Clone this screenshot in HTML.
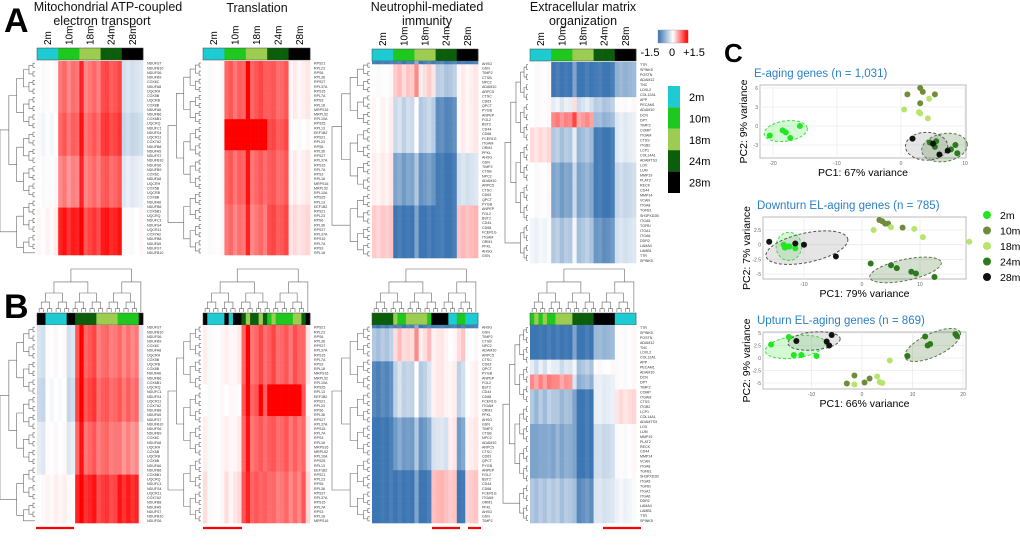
<!DOCTYPE html>
<html><head><meta charset="utf-8">
<style>
html,body{margin:0;padding:0;background:#fff;}
body{width:1020px;height:541px;overflow:hidden;font-family:"Liberation Sans",sans-serif;}
svg text{font-family:"Liberation Sans",sans-serif;}
</style></head>
<body>
<svg id="fig" width="1020" height="541" viewBox="0 0 1020 541" xmlns="http://www.w3.org/2000/svg">
<g><text x="4" y="32" font-size="34" font-weight="bold">A</text></g>
<g><text x="4" y="318" font-size="34" font-weight="bold">B</text></g>
<g><text x="724" y="62" font-size="26" font-weight="bold">C</text></g>
<g font-size="12.5" text-anchor="middle" fill="#111">
<text x="108" y="11">Mitochondrial ATP-coupled</text>
<text x="102" y="25">electron transport</text>
<text x="257" y="12">Translation</text>
<text x="427" y="11">Neutrophil-mediated</text>
<text x="427" y="25">immunity</text>
<text x="583" y="11">Extracellular matrix</text>
<text x="583" y="25">organization</text>
</g>
<g id="heat"></g>
<g id="legend"></g>
<g id="pca"></g>
</svg>
<script>
const groupNames = ["2m","10m","18m","24m","28m"];
const groupColors = ["#1ecbd2","#1ec81e","#9ccc50","#0b5e0b","#000000"];
const colsA = [0,0,0,0,0,1,1,1,1,1,2,2,2,2,2,3,3,3,3,3,4,4,4,4,4];
const colEffect = [0,-0.1,0.05,-0.05,0.1, 0,0.1,-0.1,0.05,0, 0.5,-0.1,0,0.1,-0.05, 0.05,0.1,-0.05,0,0.1, -0.1,0.05,-0.1,0,0.1];
const mitoBands = [[12,0,0.8,0.8,1.0,-0.3],[10,-0.05,0.9,0.9,1.1,-0.4],[12,0,0.7,0.8,0.9,-0.2],[11,0.05,1.3,1.1,1.3,0]];
const transBands = [[15,0,0.9,1.0,0.9,0.1],[8,0,1.6,1.6,1.0,0],[14,0,0.9,0.9,0.9,0.1],[13,0,0.8,0.8,1.0,0.2]];
const neutBands = [[1,-1.4,-1.4,-1.4,-1.4,-1.4],[10,0,0.3,0.2,-0.6,0.1],[17,0.05,-0.4,-0.5,-1.3,0.1],[16,0.1,-1.0,-1.1,-1.5,-0.3],[16,0.3,-1.5,-1.5,-1.5,0.4]];
const ecmBands = [[7,0,-1.5,-1.5,-1.5,-0.8],[3,0,-0.2,-0.3,-0.6,0],[3,0,0.7,0.6,-0.8,-0.2],[7,0.2,-0.6,-0.7,-1.5,-0.2],[11,0,-1.0,-0.9,-1.5,-0.4],[9,-0.1,-0.6,-0.6,-1.2,-0.3]];
const colsBmito = [4,4,0,0,0,0,0,4,4,3,3,3,3,3,2,2,2,2,2,1,1,1,1,1,4];
const colsBtrans = [4,0,0,0,0,4,0,4,4,3,2,3,3,2,3,1,2,1,1,1,1,2,2,3,4];
const colsBneut = [3,3,3,3,3,2,1,1,2,2,2,2,2,1,4,4,4,4,0,0,1,1,0,0,0];
const colsBecm = [1,2,1,2,1,1,2,2,2,2,3,3,3,3,3,4,4,4,4,4,0,0,0,0,0];
const mitoLabels = ["NDUFS7","NDUFB10","NDUFS6","NDUFB9","COX6C","NDUFA8","UQCRH","COX5B","UQCRB","COX8B","NDUFA6","NDUFB6","COX6B1","UQCRQ","NDUFC1","NDUFS4","UQCR11","COX7A2","NDUFB8","NDUFA5"];
const transLabels = ["RPS21","RPL23","RPS6","RPL36","RPS27","RPL37A","RPS15","RPL7A","RPS3","RPL18","MRPS16","MRPL52","RPL10A","RPS25","RPL13","EEF1B2"];
const neutLabels = ["AHSG","GSN","TIMP2","CTSB","NPC2","ADAM10","ARPC5","CTSC","CD63","QPCT","PYGB","ANPEP","FGL2","BST2","CD44","CD68","FCER1G","ITGAM","ORM1","PFKL"];
const ecmLabels = ["TTR","SPINK5","POSTN","ADAM12","TNC","LOXL2","COL12A1","APP","PECAM1","ADAM10","DCN","DPT","TIMP2","COMP","ITGAM","CTSS","ITGB2","LCP1","COL14A1","ADAMTS3","LOX","LUM","MMP19","PLAT2","RECK","CD44","MMP14","VCAN","ITGA8","TGFB1","SH3PXD2B","ITGA5","TGFBI","ITGA1","ITGA6","DDR2","LAMA4","LAMB1"];

function color(v){
  v=Math.max(-1.5,Math.min(1.5,v));
  let t=Math.abs(v)/1.5;
  if(v>=0){return `rgb(255,${Math.round(255*(1-t))},${Math.round(255*(1-t))})`;}
  return `rgb(${Math.round(255+(61-255)*t)},${Math.round(255+(118-255)*t)},${Math.round(255+(178-255)*t)})`;
}
const NS="http://www.w3.org/2000/svg";
function el(tag,attrs,parent){const e=document.createElementNS(NS,tag);for(const k in attrs)e.setAttribute(k,attrs[k]);parent.appendChild(e);return e;}
const heat=document.getElementById('heat');

function rowDendro(g,x0,x1,y,h,n){
  let nodes=[];for(let i=0;i<n;i++)nodes.push({y:y+(i+0.5)*h/n,x:x1});
  let level=0, d="";
  while(nodes.length>1){
    level++;const nx=[];
    for(let i=0;i<nodes.length;i+=2){
      if(i+1<nodes.length){
        const a=nodes[i],b=nodes[i+1];const xx=x1-(x1-x0)*Math.pow(level/Math.ceil(Math.log2(n)),1.6);
        d+=`M${a.x},${a.y}H${xx}V${b.y}H${b.x}`;nx.push({x:xx,y:(a.y+b.y)/2});
      }else nx.push(nodes[i]);
    }
    nodes=nx;
  }
  el('path',{d:d,fill:'none',stroke:'#666','stroke-width':0.6},g);
}
function colDendro(g,x,w,y0,y1,n){
  let nodes=[];for(let i=0;i<n;i++)nodes.push({x:x+(i+0.5)*w/n,y:y1});
  let level=0,d="";const L=Math.ceil(Math.log2(n));
  while(nodes.length>1){
    level++;const nx=[];
    for(let i=0;i<nodes.length;i+=2){
      if(i+1<nodes.length){const a=nodes[i],b=nodes[i+1];const yy=y1-(y1-y0)*Math.pow(level/L,1.6);
        d+=`M${a.x},${a.y}V${yy}H${b.x}V${b.y}`;nx.push({x:(a.x+b.x)/2,y:yy});}
      else nx.push(nodes[i]);
    }
    nodes=nx;
  }
  el('path',{d:d,fill:'none',stroke:'#666','stroke-width':0.6},g);
}

function drawHeatmap(name,bands,cols,labels,x,w,y,h,barY,dx0,panelB){
  const g=el('g',{},heat);
  
  
  const nrows=bands.reduce((s,b)=>s+b[0],0);
  const cw=w/cols.length, rh=h/nrows;
  const bar=el('g',{},g);
  
  
  cols.forEach((gi,c)=>{el('rect',{x:x+c*cw,y:barY,width:cw+0.3,height:12,fill:groupColors[gi]},bar);});
  el('rect',{x:x,y:barY,width:w,height:12,fill:'none',stroke:'#444','stroke-width':0.5},bar);
  if(!panelB){
    groupNames.forEach((gn,i)=>{
      const cx=x+(i+0.5)*w/5;
      const t=el('text',{x:0,y:0,'font-size':10,transform:`translate(${cx+3.5},${barY-3}) rotate(-90)`},g);
      t.textContent=gn;
      
      
    });
  } else {
    colDendro(g,x,w,barY-44,barY-1,cols.length);
  }
  const cells=el('g',{},g);
  
  
  let r=0;
  bands.forEach(b=>{
    for(let k=0;k<b[0];k++){
      cols.forEach((gi,c)=>{
        const v=b[1+gi]+colEffect[c%colEffect.length]*(gi===0||gi===4?0.5:1);
        el('rect',{x:x+c*cw,y:y+r*rh,width:cw+0.3,height:rh+0.3,fill:color(v)},cells);
      });
      r++;
    }
  });
  const lab=el('g',{'font-size':3.6,fill:'#333'},g);
  
  
  const nl=Math.min(nrows,Math.floor(h/4.6));
  for(let i=0;i<nl;i++){const t=el('text',{x:x+w+4,y:y+(i+0.8)*h/nl},lab);t.textContent=labels[i%labels.length];}
  rowDendro(g,dx0,x-2,y,h,Math.min(nrows,48));
}
drawHeatmap('heatmap-a-mito',mitoBands,colsA,mitoLabels,37,106,61,194,48,0,false);
drawHeatmap('heatmap-a-translation',transBands,colsA,transLabels,203,107,61,194,48,168,false);
drawHeatmap('heatmap-a-neutrophil',neutBands,colsA,neutLabels,372,106,61,197,49,332,false);
drawHeatmap('heatmap-a-ecm',ecmBands,colsA,ecmLabels,530,106,62,201,49,505,false);
drawHeatmap('heatmap-b-mito',mitoBands,colsBmito,mitoLabels,37,106,325,198,313,0,true);
drawHeatmap('heatmap-b-translation',transBands,colsBtrans,transLabels,203,107,325,198,313,168,true);
drawHeatmap('heatmap-b-neutrophil',neutBands,colsBneut,neutLabels,372,106,325,198,313,332,true);
drawHeatmap('heatmap-b-ecm',ecmBands,colsBecm,ecmLabels,530,106,325,198,313,503,true);
const redLines=[[36,74],[203,242],[432,460],[468,481],[603,641]];
redLines.forEach((l,i)=>{const e=el('line',{x1:l[0],x2:l[1],y1:528,y2:528,stroke:'#f00','stroke-width':2.2},heat);
  
  });

const leg=document.getElementById('legend');
const sc=el('g',{},leg);


for(let i=0;i<30;i++){const v=-1.5+3*i/29;el('rect',{x:658+i,y:30,width:1.2,height:13,fill:color(v)},sc);}
el('rect',{x:658,y:30,width:30,height:13,fill:'none',stroke:'#999','stroke-width':0.4},sc);
[["-1.5",650],["0",672],["+1.5",694]].forEach(a=>{const t=el('text',{x:a[1],y:56,'font-size':11,'text-anchor':'middle'},sc);t.textContent=a[0];});
const gl=el('g',{},leg);


groupNames.forEach((gn,i)=>{
  el('rect',{x:668,y:86+i*21.4,width:12,height:21.4,fill:groupColors[i]},gl);
  const t=el('text',{x:689,y:101+i*21.4,'font-size':11},gl);t.textContent=gn;
  
  
});

const pcaColors = ["#22e622","#6f8c3a","#b6e56c","#2c7a1c","#111111"];
const p1x = [[-20.5,-18.5,-18,-17.3,-15.8],[1,3,3.4,3,5.3],[0.5,2.8,3,4.4,4.2],[4.5,5.3,5.5,7.8,8.5,8.8],[1.8,5,6,7.3]];
const p1y = [[-1.5,-0.7,-1,-1.9,0],[5,6,5.4,3.6,5],[2.6,2.2,2,4.3,1.2],[-2.6,-3.3,-2.4,-3.7,-3,-4.3],[-2,-2.8,-4.5,-3.9]];
const p2x = [[-13.5,-13.3,-12.8,-12.5,-11.5],[3,3.5,4,4.5,7],[2,5,9,10.5,18.5],[1.5,5,6,8.5,9.3,12.5],[-16,-11.5,-10,-4.5]];
const p2y = [[0,-0.5,-0.3,-0.3,-0.6],[4.2,4,3.6,3.6,2.9],[2.5,3,2.7,1.3,0.5],[-3.2,-3.5,-4,-4.6,-4.9,-5.5],[0.5,0.2,0,-2]];
const p3x = [[-18,-14.5,-13.5,-12,-9],[-3,-1.5,0.5,1.5],[-1.5,3,3.5,4,5.5],[9,12.5,13,13.5,18.5,18.8],[-13,-7,-6.5,-6]];
const p3y = [[2.7,4.2,0.6,0.6,0.4],[-5.1,-3.5,-4.9,-4.1],[-5.3,-3.7,-4.8,-5,-0.5],[0.4,4.3,2.5,2.8,4.8,4.4],[3.4,3.3,2.5,4.6]];
const xTicks1=[-20,-10,0,10], yTicks1=[-3,0,3,6];
const xTicks2=[-10,0,10], yTicks2=[-5,-2.5,0,2.5];
const xTicks3=[-10,0,10,20], yTicks3=[-5,-2.5,0,2.5,5];
const ell1=[[0,-18,-0.8,3.4,1.6,-8],[4,4,-3.2,3.3,2.2,0],[3,6.8,-3.4,3.6,2.2,-10]];
const ell2=[[0,-12.6,-0.3,2.2,2.4,0],[4,-9.5,-0.5,7.2,2.5,-12],[3,7.5,-4.3,6.3,1.8,-12]];
const ell3=[[0,-13.2,2.2,6,2.2,-8],[4,-9.5,3.4,5.2,1.8,-5],[3,14,2.6,6,2.3,-25]];

const pcaG=document.getElementById('pca');
function pcaPlot(name,title,xlab,ylab,X,Y,ell,xt,yt,box,xmap,ymap){
  const g=el('g',{},pcaG);
  
  
  const sx=v=>xmap[0]+(v-xmap[1])*xmap[2];
  const sy=v=>ymap[0]-(v-ymap[1])*ymap[2];
  const tt=el('text',{x:box[0]-6,y:box[1]-8,'font-size':11.5,fill:'#2a7fc9'},g);tt.textContent=title;
  
  el('rect',{x:box[0],y:box[1],width:box[2],height:box[3],fill:'#fff',stroke:'#bbb','stroke-width':1},g);
  xt.forEach(v=>{el('line',{x1:sx(v),x2:sx(v),y1:box[1],y2:box[1]+box[3],stroke:'#ececec','stroke-width':0.8},g);
    const t=el('text',{x:sx(v),y:box[1]+box[3]+7,'font-size':5,'text-anchor':'middle',fill:'#666'},g);t.textContent=v;});
  yt.forEach(v=>{el('line',{x1:box[0],x2:box[0]+box[2],y1:sy(v),y2:sy(v),stroke:'#ececec','stroke-width':0.8},g);
    const t=el('text',{x:box[0]-2,y:sy(v)+2,'font-size':5,'text-anchor':'end',fill:'#666'},g);t.textContent=v.toFixed(v%1?1:0);});
  ell.forEach(e=>{const cx=sx(e[1]),cy=sy(e[2]);
    const fill=e[0]===4?'rgba(150,150,150,0.25)':(e[0]===0?'rgba(60,230,60,0.22)':'rgba(60,110,40,0.22)');
    const st=e[0]===4?'#555':(e[0]===0?'#3ee03e':'#5a7a48');
    const E=el('ellipse',{cx:cx,cy:cy,rx:e[3]*xmap[2],ry:e[4]*ymap[2],transform:`rotate(${e[5]},${cx},${cy})`,fill:fill,stroke:st,'stroke-width':1,'stroke-dasharray':'3,2'},g);
    });
  X.forEach((xs,gi)=>xs.forEach((xv,j)=>{const c=el('circle',{cx:sx(xv),cy:sy(Y[gi][j]),r:3,fill:pcaColors[gi]},g);
    }));
  const xl=el('text',{x:box[0]+box[2]/2,y:box[1]+box[3]+18,'font-size':10.5,'text-anchor':'middle'},g);xl.textContent=xlab;
  
  const yl=el('text',{x:0,y:0,'font-size':10.5,'text-anchor':'middle',transform:`translate(${box[0]-13},${box[1]+box[3]/2}) rotate(-90)`},g);yl.textContent=ylab;
  
}
pcaPlot('pca-e-aging','E-aging genes (n = 1,031)','PC1: 67% variance','PC2: 9% variance',p1x,p1y,ell1,xTicks1,yTicks1,[760,85,206,73],[773,-20,6.4],[126,0,6.33]);
pcaPlot('pca-downturn','Downturn EL-aging genes (n = 785)','PC1: 79% variance','PC2: 7% variance',p2x,p2y,ell2,xTicks2,yTicks2,[763,217,203,62],[862,0,5.8],[244.7,0,5.87]);
pcaPlot('pca-upturn','Upturn EL-aging genes (n = 869)','PC1: 66% variance','PC2: 9% variance',p3x,p3y,ell3,xTicks3,yTicks3,[763,332,203,57],[862,0,5.05],[358,0,5]);
const pl=el('g',{},pcaG);


groupNames.forEach((gn,i)=>{el('circle',{cx:987,cy:215+i*15.5,r:4,fill:pcaColors[i]},pl);
  const t=el('text',{x:1000,y:219+i*15.5,'font-size':10.5},pl);t.textContent=gn;
  });
</script>
</body></html>
